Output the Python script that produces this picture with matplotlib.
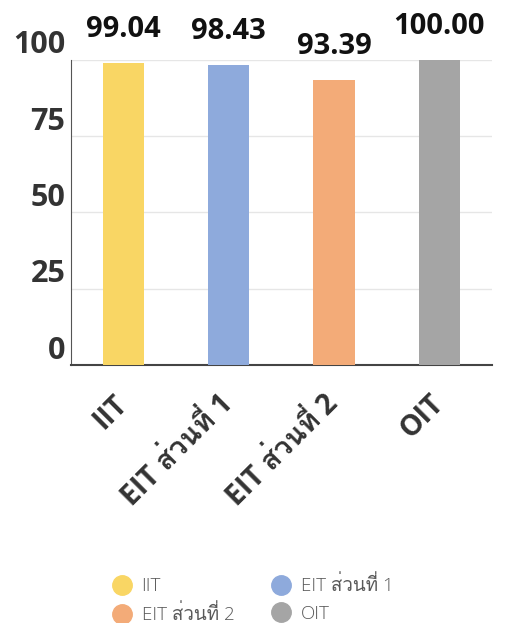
import matplotlib
matplotlib.use("Agg")
import matplotlib.pyplot as plt
from matplotlib import font_manager
from matplotlib.ft2font import FT2Font
from matplotlib.lines import Line2D
from matplotlib.transforms import ScaledTranslation

# ข้อมูล
categories = ["IIT", "EIT ส่วนที่ 1", "EIT ส่วนที่ 2", "OIT"]
values = [99.04, 98.43, 93.39, 100.00]
value_labels = ["99.04", "98.43", "93.39", "100.00"]
colors = ["#F9D664", "#8EAADC", "#F3AB78", "#A5A5A5"]
yticks = [0, 25, 50, 75, 100]


def find_thai_font():
    # หา font ที่มีอักษรไทย (ส = U+0E2A)
    for path in sorted(font_manager.findSystemFonts()):
        try:
            f = FT2Font(path)
            if f.get_char_index(0x0E2A):
                font_manager.fontManager.addfont(path)
                return font_manager.FontProperties(fname=path).get_name()
        except Exception:
            pass
    return None


thai = find_thai_font()
fams = ["Open Sans"] + ([thai] if thai else []) + ["DejaVu Sans"]
plt.rcParams["font.family"] = fams

fig = plt.figure(figsize=(5.07, 6.23), dpi=100)
ax = fig.add_axes([0.140, 0.414, 0.830, 0.490])

x = list(range(len(categories)))
ax.bar(x, values, width=0.39, color=colors, zorder=3)

for i, v in enumerate(values):
    ax.annotate(value_labels[i], (i, v), xytext=(0, 24), textcoords="offset points",
                ha="center", va="center", fontsize=21, fontweight="bold", color="#111111")

ax.set_xlim(-0.5, 3.5)
ax.set_ylim(0, 100)
ax.set_yticks(yticks)
ax.set_yticklabels([str(t) for t in yticks], fontsize=22, fontweight="bold", color="#333333")
ax.set_xticks(x)
ax.set_xticklabels(categories, rotation=45, ha="right", va="center", rotation_mode="anchor",
                   fontsize=20.5, fontweight="bold", color="#333333")
ax.tick_params(axis="both", length=0)
ax.tick_params(axis="y", pad=4)
ax.tick_params(axis="x", pad=25)
# ป้ายแกน y อยู่เหนือเส้น grid
up = ScaledTranslation(0, 0.18, fig.dpi_scale_trans)
for lab in ax.get_yticklabels():
    lab.set_transform(lab.get_transform() + up)

ax.grid(axis="y", color="#E6E6E6", linewidth=1, zorder=0)
for s in ["top", "right"]:
    ax.spines[s].set_visible(False)
ax.spines["left"].set_color("#555555")
ax.spines["bottom"].set_color("#444444")
ax.spines["bottom"].set_linewidth(1.5)

# legend เรียงตามแถว
order = [0, 2, 1, 3]
handles = [Line2D([], [], marker="o", linestyle="none", markersize=14,
                  markerfacecolor=colors[k], markeredgecolor=colors[k]) for k in order]
leg = fig.legend(handles, [categories[k] for k in order], ncol=2, loc="center left",
                 bbox_to_anchor=(0.222, 0.037), frameon=False, fontsize=13.5,
                 handlelength=1.0, handletextpad=0.55, columnspacing=2.0,
                 labelspacing=0.5, borderpad=0, borderaxespad=0)
for t in leg.get_texts():
    t.set_color("#595959")
    t.set_fontweight("light")

fig.savefig("out.png", dpi=100)
